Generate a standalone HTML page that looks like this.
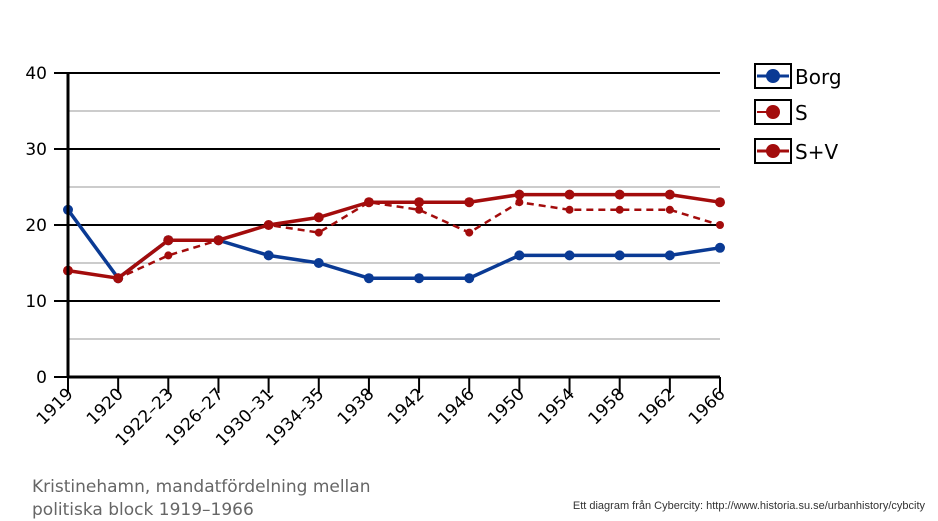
<!DOCTYPE html>
<html><head><meta charset="utf-8"><style>
body{margin:0;background:#fff;}
svg{display:block;font-family:"DejaVu Sans","Liberation Sans",sans-serif;}
</style></head><body>
<svg id="chart" width="938" height="521">
<g id="grid"></g><g id="series"></g><g id="axes"></g>
<g>
 <g>
  <rect x="755" y="64" width="36" height="24" fill="#fff" stroke="#000" stroke-width="2"/>
  <line x1="757" y1="76" x2="789" y2="76" stroke="#0a3a94" stroke-width="3"/>
  <circle cx="773" cy="76" r="7" fill="#0a3a94"/>
  <text x="795" y="84" font-size="20">Borg</text></g>
 <g>
  <rect x="755" y="100" width="36" height="24" fill="#fff" stroke="#000" stroke-width="2"/>
  <line x1="757" y1="112" x2="773" y2="112" stroke="#a30c0c" stroke-width="2"/>
  <circle cx="773" cy="112" r="7" fill="#a30c0c"/>
  <text x="795" y="120" font-size="20">S</text></g>
 <g>
  <rect x="755" y="139" width="36" height="24" fill="#fff" stroke="#000" stroke-width="2"/>
  <line x1="757" y1="151" x2="789" y2="151" stroke="#a30c0c" stroke-width="3"/>
  <circle cx="773" cy="151" r="7" fill="#a30c0c"/>
  <text x="795" y="159" font-size="20">S+V</text></g>
</g>
<text x="32" y="492" font-size="17" fill="#666">Kristinehamn, mandatfördelning mellan</text>
<text x="32" y="515" font-size="17" fill="#666">politiska block 1919–1966</text>
<text x="925" y="509" font-size="11" text-anchor="end" fill="#333" font-family="Liberation Sans, sans-serif">Ett diagram från Cybercity: http://www.historia.su.se/urbanhistory/cybcity</text>
</svg>
<script>
const categories=["1919","1920","1922–23","1926–27","1930–31","1934–35","1938","1942","1946","1950","1954","1958","1962","1966"];
const borg=[22,13,18,18,16,15,13,13,13,16,16,16,16,17];
const s=[14,13,16,18,20,19,23,22,19,23,22,22,22,20];
const sv=[14,13,18,18,20,21,23,23,23,24,24,24,24,23];
const yTicks=[0,10,20,30,40];
const NS="http://www.w3.org/2000/svg";
const x0=68,x1=720,y0=377,y40=73;
const xs=i=>x0+i*(x1-x0)/(categories.length-1);
const ys=v=>y0-v*(y0-y40)/40;
function mk(tag,attrs,parent){const e=document.createElementNS(NS,tag);for(const k in attrs)e.setAttribute(k,attrs[k]);parent.appendChild(e);return e;}
const grid=document.getElementById('grid'),axes=document.getElementById('axes'),ser=document.getElementById('series');
for(let v=5;v<=40;v+=5){
 const major=v%10===0;
 const l=mk('line',{x1:x0,x2:x1,y1:ys(v),y2:ys(v),stroke:major?'#000':'#999','stroke-width':major?2:1},grid);
 
 
}
yTicks.forEach(v=>{
 const t=mk('text',{x:47,y:ys(v)+6,'font-size':17,'text-anchor':'end'},axes);t.textContent=v;
 
 
 const tk=mk('line',{x1:54,x2:x0,y1:ys(v),y2:ys(v),stroke:'#000','stroke-width':2},axes);
 
 
});
const ya=mk('line',{x1:x0,x2:x0,y1:y40,y2:y0,stroke:'#000','stroke-width':3},axes);


const xa=mk('line',{x1:x0,x2:x1,y1:y0,y2:y0,stroke:'#000','stroke-width':3},axes);


categories.forEach((c,i)=>{
 const tk=mk('line',{x1:xs(i),x2:xs(i),y1:y0,y2:y0+16,stroke:'#000','stroke-width':2},axes);
 
 
 const t=mk('text',{x:xs(i)+6,y:y0+18,'font-size':17,'text-anchor':'end',transform:`rotate(-45 ${xs(i)+6} ${y0+18})`},axes);
 t.textContent=c;
 
 
});
function series(vals,color,w,dash,r,name){
 const g=mk('g',{},ser);
 
 
 const p=mk('polyline',{points:vals.map((v,i)=>xs(i)+','+ys(v)).join(' '),fill:'none',stroke:color,'stroke-width':w,'stroke-dasharray':dash||'none'},g);
 
 
 vals.forEach((v,i)=>{
  const c=mk('circle',{cx:xs(i),cy:ys(v),r:r,fill:color},g);
  
  
 });
}
series(s,'#a30c0c',2.5,'7,5',4,'series-s');
series(borg,'#0a3a94',3.5,null,5,'series-borg');
series(sv,'#a30c0c',3.5,null,5,'series-s-plus-v');
</script>
</body></html>
